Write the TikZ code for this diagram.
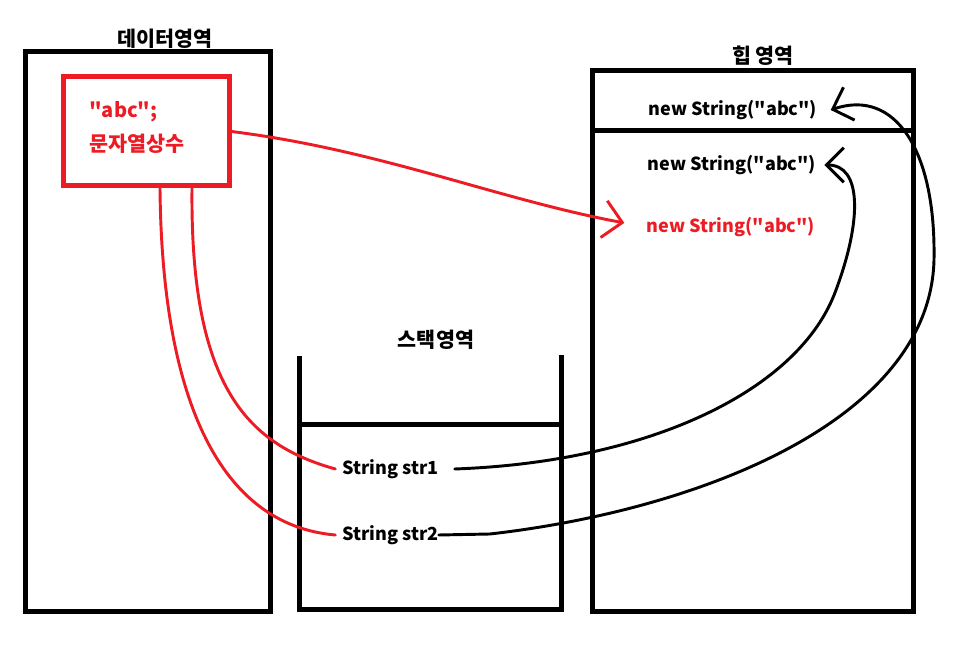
\documentclass[tikz,border=0pt]{standalone}
\usepackage{fontspec}
\setmainfont{Noto Sans CJK KR}[Ligatures=TeXOff]
\usepackage{tikz}
\usetikzlibrary{arrows.meta,positioning,fit}
\definecolor{paintred}{HTML}{ED1C24}
\tikzset{
  regionbox/.style={draw=black, line width=3.75pt, inner sep=0pt},
  constbox/.style={draw=paintred, line width=3.75pt, inner sep=0pt},
  wall/.style={draw=black, line width=3.75pt},
  regionlabel/.style={font=\fontsize{15.5}{18}\selectfont\bfseries},
  objtext/.style={font=\fontsize{13.5}{16}\selectfont\bfseries, inner sep=0pt},
  krtext/.style={font=\fontsize{15.5}{18}\selectfont\bfseries, inner sep=0pt},
  redref/.style={draw=paintred, line width=2.2pt, line cap=round},
  blackref/.style={draw=black, line width=2.2pt, line cap=round},
}

\begin{document}
\begin{tikzpicture}[x=0.75pt, y=-0.75pt]
  \useasboundingbox (0,0) rectangle (976,659);

  % data area
  \node[regionbox, fit={(25,52) (270,612)}] (data) {};
  \node[regionlabel] (datalabel) at (165,39) {데이터영역};
  \node[constbox, fit={(63,77) (229,186)}] (strbox) {};
  \node[objtext, text=paintred, anchor=west, font=\fontsize{15}{18}\selectfont\bfseries] (lit) at (89,112) {"abc";};
  \node[krtext, text=paintred, anchor=west] (littxt) at (89,144) {문자열상수};

  % heap area
  \node[regionbox, fit={(592,71) (913,612)}] (heap) {};
  \node[regionlabel] (heaplabel) at (763,56) {힙 영역};
  \draw[wall] (heap.west |- 0,131) -- (heap.east |- 0,131);
  \node[objtext] (heapa) at (733,110) {new String("abc")};
  \node[objtext] (heapb) at (732,165) {new String("abc")};
  \node[objtext, text=paintred] (heapc) at (731,227) {new String("abc")};

  % stack area
  \node[regionlabel] (stacklabel) at (436,340) {스택영역};
  \draw[wall] (299,356) -- (299,610) -- (561,610) -- (561,355);
  \draw[wall] (299,425) -- (561,425);
  \node[objtext, anchor=west] (strone) at (342,469) {String str1};
  \node[objtext, anchor=west] (strtwo) at (342,535) {String str2};

  % references
  \draw[redref] ([xshift=34.5pt]strbox.south) .. controls (190,390) and (250,445) .. ([xshift=-5pt]strone.west);
  \draw[redref] ([xshift=10.5pt]strbox.south) .. controls (162,400) and (220,525) .. ([xshift=-5pt]strtwo.west);
  \draw[redref, -{Straight Barb[length=14pt, width=28pt, line width=2.2pt]}, shorten >=17pt]
    (strbox.east) .. controls (380,150) and (500,200) .. (heapc.west);

  \draw[blackref, -{Straight Barb[length=13pt, width=26pt, line width=2.2pt]}]
    ([xshift=12pt]strone.east) .. controls (650,462) and (800,390) .. (836,290)
    .. controls (862,220) and (862,165) .. ([xshift=6pt]heapb.east);
  \draw[blackref, -{Straight Barb[length=13pt, width=26pt, line width=2.2pt]}]
    (strtwo.east) -- (490,534) .. controls (700,510) and (930,420) .. (934,260)
    .. controls (936,150) and (895,88) .. ([xshift=10pt]heapa.east);
\end{tikzpicture}
\end{document}
